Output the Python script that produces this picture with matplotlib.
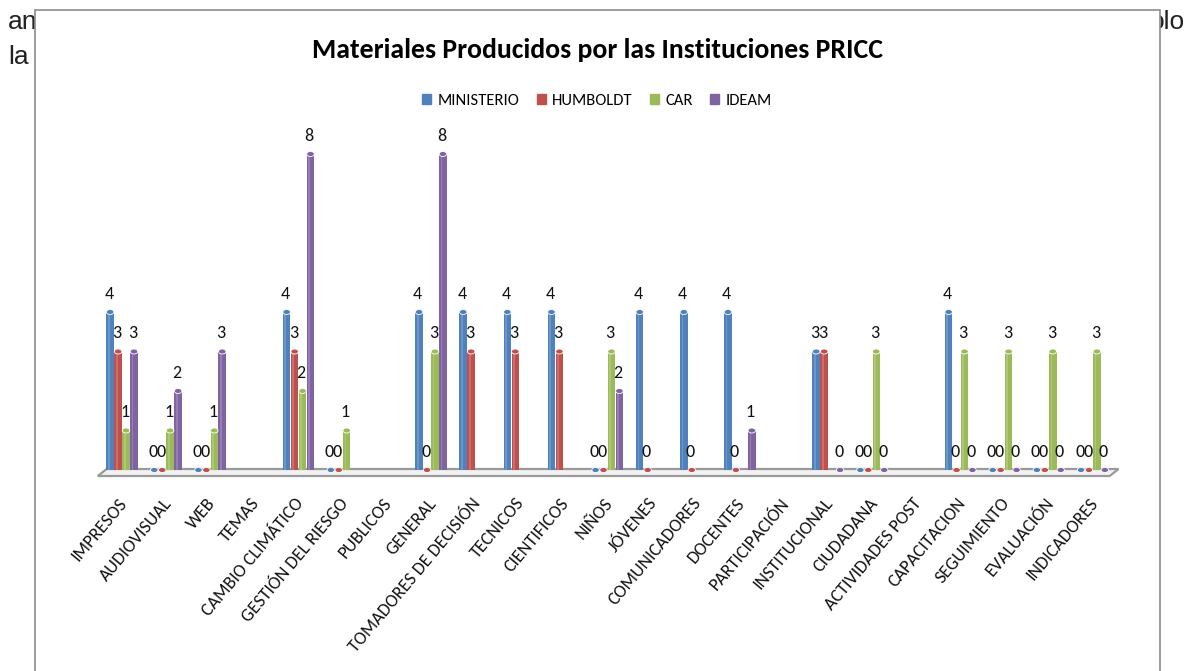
import numpy as np
import matplotlib
matplotlib.use("Agg")
import matplotlib.pyplot as plt
import matplotlib.transforms as mtransforms
from matplotlib import font_manager
from matplotlib.patches import Rectangle, Polygon, Ellipse

names = {f.name for f in font_manager.fontManager.ttflist}
FONT = next((n for n in ["Carlito", "Liberation Sans Narrow", "Open Sans", "DejaVu Sans"] if n in names), "DejaVu Sans")
plt.rcParams['font.family'] = [FONT, 'DejaVu Sans']

categories = ["IMPRESOS", "AUDIOVISUAL", "WEB", "TEMAS", "CAMBIO CLIMÁTICO",
              "GESTIÓN DEL RIESGO", "PUBLICOS", "GENERAL", "TOMADORES DE DECISIÓN",
              "TECNICOS", "CIENTIFICOS", "NIÑOS", "JÓVENES", "COMUNICADORES",
              "DOCENTES", "PARTICIPACIÓN", "INSTITUCIONAL", "CIUDADANA",
              "ACTIVIDADES POST", "CAPACITACION", "SEGUIMIENTO", "EVALUACIÓN",
              "INDICADORES"]
nan = np.nan
ministerio = [4, 0, 0, nan, 4, 0, nan, 4, 4, 4, 4, 0, 4, 4, 4, nan, 3, 0, nan, 4, 0, 0, 0]
humboldt   = [3, 0, 0, nan, 3, 0, nan, 0, 3, 3, 3, 0, 0, 0, 0, nan, 3, 0, nan, 0, 0, 0, 0]
car        = [1, 1, 1, nan, 2, 1, nan, 3, nan, nan, nan, 3, nan, nan, nan, nan, nan, 3, nan, 3, 3, 3, 3]
ideam      = [3, 2, 3, nan, 8, nan, nan, 8, nan, nan, nan, 2, nan, nan, 1, nan, 0, 0, nan, 0, 0, 0, 0]
series_names = ["MINISTERIO", "HUMBOLDT", "CAR", "IDEAM"]
colors = ["#4F81BD", "#C0504D", "#9BBB59", "#8064A2"]
title = "Materiales Producidos por las Instituciones PRICC"

W, H = 1188, 671
fig = plt.figure(figsize=(W / 100, H / 100), dpi=100)

# background document text (partially hidden by chart frame)
bg = dict(fontsize=19, family="Liberation Sans", va="center", ha="left", zorder=0, color="#222222")
fig.text(8 / W, 1 - 22 / H, "an", **bg)
fig.text(8 / W, 1 - 57 / H, "la", **bg)
fig.text(1150 / W, 1 - 22 / H, "olo", **bg)

# chart frame
fig.patches.append(Rectangle((35 / W, -0.05), (1160 - 35) / W, 1 - 10 / H + 0.05,
                             transform=fig.transFigure, facecolor="white",
                             edgecolor="#8c8c8c", linewidth=1.2, zorder=1))

x0, x1 = 100, 1115
y_base, px_per_unit = 470, 39.5
ymax = 8.6
ax = fig.add_axes([x0 / W, 1 - y_base / H, (x1 - x0) / W, ymax * px_per_unit / H])
ax.set_zorder(2)
ax.patch.set_alpha(0)
n = len(categories)
x = np.arange(n)
ax.set_xlim(-0.5, n - 0.5)
ax.set_ylim(0, ymax)
for s in ax.spines.values():
    s.set_visible(False)
ax.set_yticks([])
ax.set_xticks(x)
ax.set_xticklabels(categories, rotation=50, ha="right", rotation_mode="anchor",
                   fontsize=13, color="#111111")
ax.tick_params(axis="x", length=0, pad=18)
shift = mtransforms.ScaledTranslation(-4 / 100, 0, fig.dpi_scale_trans)
for lbl in ax.get_xticklabels():
    lbl.set_transform(lbl.get_transform() + shift)

# 3D-ish floor
u = 1 / px_per_unit
floor = Polygon([(-0.55, -6 * u), (n - 0.62, -6 * u), (n - 0.42, 1 * u), (-0.35, 1 * u)],
                closed=True, facecolor="#f2f2f2", edgecolor="#9a9a9a", linewidth=1.6,
                clip_on=False, zorder=1)
ax.add_patch(floor)

bw = 0.17
step = 0.18
for i, (vals, c) in enumerate(zip([ministerio, humboldt, car, ideam], colors)):
    vals = np.array(vals, dtype=float)
    xs = x + (i - 1.5) * step
    mask = ~np.isnan(vals)
    ax.bar(xs[mask], vals[mask], width=bw, color=c, edgecolor="none", zorder=3, label=series_names[i])
    # cylinder highlight
    ax.bar(xs[mask] - bw * 0.18, vals[mask], width=bw * 0.22, color="white", alpha=0.18,
           edgecolor="none", zorder=3.1)
    for xi, v in zip(xs[mask], vals[mask]):
        ax.add_patch(Ellipse((xi, v), bw, 5 * u, facecolor=c, edgecolor="white",
                             linewidth=0.6, zorder=3.2, clip_on=False))
        ax.annotate(f"{int(v)}", (xi, v), xytext=(-1, 13), textcoords="offset points",
                    ha="center", va="center", fontsize=13, color="#111111", zorder=4,
                    annotation_clip=False)

fig.text(598 / W, 1 - 50 / H, title, fontsize=20, fontweight="bold", ha="center",
         va="center", zorder=5)
handles = [Rectangle((0, 0), 1, 1, color=c) for c in colors]
fig.legend(handles, series_names, loc="center", bbox_to_anchor=(597 / W, 1 - 101 / H),
           ncol=4, frameon=False, fontsize=12, handlelength=0.55, handleheight=0.55,
           handletextpad=0.4, columnspacing=1.0)

fig.savefig("out.png", dpi=100)
